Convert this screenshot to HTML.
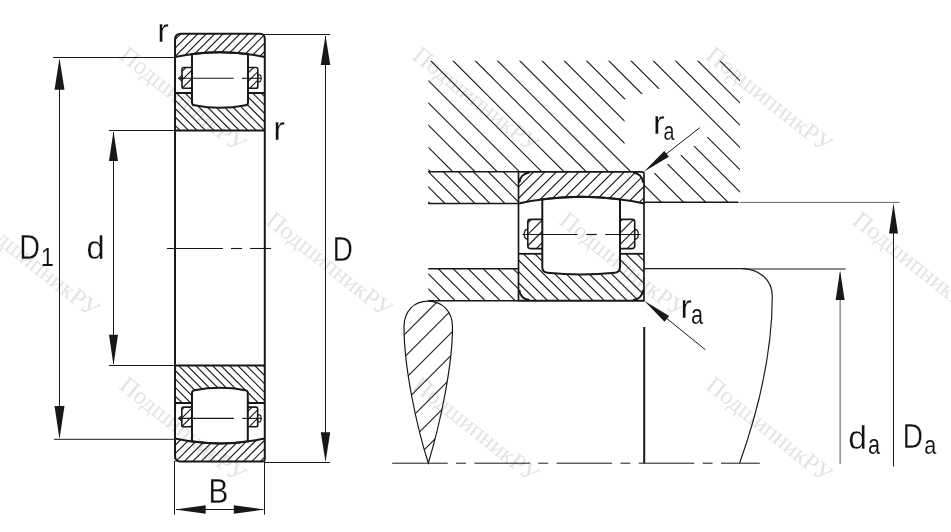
<!DOCTYPE html>
<html><head><meta charset="utf-8"><style>html,body{margin:0;padding:0;background:#fff;width:951px;height:532px;overflow:hidden}</style></head>
<body><svg width="951" height="532" viewBox="0 0 951 532" style="position:absolute;left:0;top:0">
<defs><clipPath id="orT"><path d="M175.0,57 L175.0,33.8 L264.8,33.8 L264.8,57 Q219.9,47.5 175.0,57 Z"/></clipPath><clipPath id="irT"><path d="M175.0,93 H264.8 V130.5 H175.0 Z"/></clipPath><mask id="irmT" maskUnits="userSpaceOnUse" x="0" y="0" width="951" height="532"><rect width="951" height="532" fill="#fff"/><path d="M192,54.08 Q220,50.4 248,54.11 L248,102.5 Q248,105 245.5,105.3 Q220,110.4 194.5,105.3 Q192,105 192,102.5 Z" fill="#000" stroke="#000" stroke-width="1"/></mask><clipPath id="cgT"><rect x="182.0" y="67.5" width="10" height="20.8"/><rect x="248.0" y="67.5" width="9.8" height="20.8"/></clipPath><clipPath id="orB"><path d="M175.0,438.6 L175.0,461.6 L264.8,461.6 L264.8,438.6 Q219.9,448.2 175.0,438.6 Z"/></clipPath><clipPath id="irB"><path d="M175.0,365.5 H264.8 V403 H175.0 Z"/></clipPath><mask id="irmB" maskUnits="userSpaceOnUse" x="0" y="0" width="951" height="532"><rect width="951" height="532" fill="#fff"/><path d="M192,441.55 Q219.9,445.25 247.8,441.55 L247.8,393.1 Q247.8,390.6 245.3,390.3 Q219.9,385.4 194.5,390.3 Q192,390.6 192,393.1 Z" fill="#000" stroke="#000" stroke-width="1"/></mask><clipPath id="cgB"><rect x="181.8" y="407.1" width="10.2" height="19.7"/><rect x="247.8" y="407.1" width="9.9" height="19.7"/></clipPath><clipPath id="hs"><path d="M428.4,60.8 H740 V202.2 H644.0 V171.8 H428.4 Z"/></clipPath><mask id="gap" maskUnits="userSpaceOnUse" x="0" y="0" width="951" height="532"><rect width="951" height="532" fill="#fff"/><path d="M624.5,99.5 L663,87.5 L711,134.5 L652.5,174.5 L624.5,146.5 Z" fill="#000"/></mask><clipPath id="b1"><rect x="428.4" y="171.8" width="90.10000000000002" height="31.69999999999999"/></clipPath><clipPath id="b2"><rect x="428.4" y="268.8" width="90.10000000000002" height="32.0"/></clipPath><clipPath id="or2"><path d="M518.5,203.5 V182.8 A11,11 0 0 1 529.5,171.8 H633.0 A11,11 0 0 1 644.0,182.8 V203.5 Q581.25,189.9 518.5,203.5 Z"/></clipPath><clipPath id="ir2"><path d="M518.5,253.8 H644.0 V289.7 A11,11 0 0 1 633.0,300.7 H529.5 A11,11 0 0 1 518.5,289.7 Z"/></clipPath><mask id="irm2" maskUnits="userSpaceOnUse" x="0" y="0" width="951" height="532"><rect width="951" height="532" fill="#fff"/><path d="M542.3,199.32 Q581.15,194.09 620,199.29 L620,267.3 Q620,272.3 615,272.7 Q581.15,276.1 547.3,272.7 Q542.3,272.3 542.3,267.3 Z" fill="#000" stroke="#000" stroke-width="1"/></mask><clipPath id="cg2"><rect x="527.8" y="219.4" width="14.5" height="29.2"/><rect x="620" y="219.4" width="14.7" height="29.2"/></clipPath><clipPath id="td"><path d="M428.3,463 C417,428 404,368 404,327 C404,311 414,301.2 428,301.2 C442,301.2 452.5,311 452.5,327 C452.5,368 439,428 428.3,463 Z"/></clipPath></defs><rect width="951" height="532" fill="#fff"/>
<g clip-path="url(#orT)">
<line x1="167.6" y1="21.8" x2="120.4" y2="69" stroke="#1a1a1a" stroke-width="1.15" />
<line x1="176.05" y1="21.8" x2="128.85" y2="69" stroke="#1a1a1a" stroke-width="1.15" />
<line x1="184.5" y1="21.8" x2="137.3" y2="69" stroke="#1a1a1a" stroke-width="1.15" />
<line x1="192.95" y1="21.8" x2="145.75" y2="69" stroke="#1a1a1a" stroke-width="1.15" />
<line x1="201.4" y1="21.8" x2="154.2" y2="69" stroke="#1a1a1a" stroke-width="1.15" />
<line x1="209.85" y1="21.8" x2="162.65" y2="69" stroke="#1a1a1a" stroke-width="1.15" />
<line x1="218.3" y1="21.8" x2="171.1" y2="69" stroke="#1a1a1a" stroke-width="1.15" />
<line x1="226.75" y1="21.8" x2="179.55" y2="69" stroke="#1a1a1a" stroke-width="1.15" />
<line x1="235.2" y1="21.8" x2="188" y2="69" stroke="#1a1a1a" stroke-width="1.15" />
<line x1="243.65" y1="21.8" x2="196.45" y2="69" stroke="#1a1a1a" stroke-width="1.15" />
<line x1="252.1" y1="21.8" x2="204.9" y2="69" stroke="#1a1a1a" stroke-width="1.15" />
<line x1="260.55" y1="21.8" x2="213.35" y2="69" stroke="#1a1a1a" stroke-width="1.15" />
<line x1="269" y1="21.8" x2="221.8" y2="69" stroke="#1a1a1a" stroke-width="1.15" />
<line x1="277.45" y1="21.8" x2="230.25" y2="69" stroke="#1a1a1a" stroke-width="1.15" />
<line x1="285.9" y1="21.8" x2="238.7" y2="69" stroke="#1a1a1a" stroke-width="1.15" />
<line x1="294.35" y1="21.8" x2="247.15" y2="69" stroke="#1a1a1a" stroke-width="1.15" />
<line x1="302.8" y1="21.8" x2="255.6" y2="69" stroke="#1a1a1a" stroke-width="1.15" />
<line x1="311.25" y1="21.8" x2="264.05" y2="69" stroke="#1a1a1a" stroke-width="1.15" />
<line x1="319.7" y1="21.8" x2="272.5" y2="69" stroke="#1a1a1a" stroke-width="1.15" />
</g>
<g clip-path="url(#irT)" mask="url(#irmT)">
<line x1="123.8" y1="91" x2="165.3" y2="132.5" stroke="#1a1a1a" stroke-width="1.15" />
<line x1="132.25" y1="91" x2="173.75" y2="132.5" stroke="#1a1a1a" stroke-width="1.15" />
<line x1="140.7" y1="91" x2="182.2" y2="132.5" stroke="#1a1a1a" stroke-width="1.15" />
<line x1="149.15" y1="91" x2="190.65" y2="132.5" stroke="#1a1a1a" stroke-width="1.15" />
<line x1="157.6" y1="91" x2="199.1" y2="132.5" stroke="#1a1a1a" stroke-width="1.15" />
<line x1="166.05" y1="91" x2="207.55" y2="132.5" stroke="#1a1a1a" stroke-width="1.15" />
<line x1="174.5" y1="91" x2="216" y2="132.5" stroke="#1a1a1a" stroke-width="1.15" />
<line x1="182.95" y1="91" x2="224.45" y2="132.5" stroke="#1a1a1a" stroke-width="1.15" />
<line x1="191.4" y1="91" x2="232.9" y2="132.5" stroke="#1a1a1a" stroke-width="1.15" />
<line x1="199.85" y1="91" x2="241.35" y2="132.5" stroke="#1a1a1a" stroke-width="1.15" />
<line x1="208.3" y1="91" x2="249.8" y2="132.5" stroke="#1a1a1a" stroke-width="1.15" />
<line x1="216.75" y1="91" x2="258.25" y2="132.5" stroke="#1a1a1a" stroke-width="1.15" />
<line x1="225.2" y1="91" x2="266.7" y2="132.5" stroke="#1a1a1a" stroke-width="1.15" />
<line x1="233.65" y1="91" x2="275.15" y2="132.5" stroke="#1a1a1a" stroke-width="1.15" />
<line x1="242.1" y1="91" x2="283.6" y2="132.5" stroke="#1a1a1a" stroke-width="1.15" />
<line x1="250.55" y1="91" x2="292.05" y2="132.5" stroke="#1a1a1a" stroke-width="1.15" />
<line x1="259" y1="91" x2="300.5" y2="132.5" stroke="#1a1a1a" stroke-width="1.15" />
<line x1="267.45" y1="91" x2="308.95" y2="132.5" stroke="#1a1a1a" stroke-width="1.15" />
<line x1="275.9" y1="91" x2="317.4" y2="132.5" stroke="#1a1a1a" stroke-width="1.15" />
</g>
<g clip-path="url(#cgT)">
<line x1="171.1" y1="65.5" x2="146.3" y2="90.3" stroke="#1a1a1a" stroke-width="1.15" />
<line x1="179.55" y1="65.5" x2="154.75" y2="90.3" stroke="#1a1a1a" stroke-width="1.15" />
<line x1="188" y1="65.5" x2="163.2" y2="90.3" stroke="#1a1a1a" stroke-width="1.15" />
<line x1="196.45" y1="65.5" x2="171.65" y2="90.3" stroke="#1a1a1a" stroke-width="1.15" />
<line x1="204.9" y1="65.5" x2="180.1" y2="90.3" stroke="#1a1a1a" stroke-width="1.15" />
<line x1="213.35" y1="65.5" x2="188.55" y2="90.3" stroke="#1a1a1a" stroke-width="1.15" />
<line x1="221.8" y1="65.5" x2="197" y2="90.3" stroke="#1a1a1a" stroke-width="1.15" />
<line x1="230.25" y1="65.5" x2="205.45" y2="90.3" stroke="#1a1a1a" stroke-width="1.15" />
<line x1="238.7" y1="65.5" x2="213.9" y2="90.3" stroke="#1a1a1a" stroke-width="1.15" />
<line x1="247.15" y1="65.5" x2="222.35" y2="90.3" stroke="#1a1a1a" stroke-width="1.15" />
<line x1="255.6" y1="65.5" x2="230.8" y2="90.3" stroke="#1a1a1a" stroke-width="1.15" />
<line x1="264.05" y1="65.5" x2="239.25" y2="90.3" stroke="#1a1a1a" stroke-width="1.15" />
<line x1="272.5" y1="65.5" x2="247.7" y2="90.3" stroke="#1a1a1a" stroke-width="1.15" />
<line x1="280.95" y1="65.5" x2="256.15" y2="90.3" stroke="#1a1a1a" stroke-width="1.15" />
<line x1="289.4" y1="65.5" x2="264.6" y2="90.3" stroke="#1a1a1a" stroke-width="1.15" />
</g>
<path d="M175.0,57 Q219.9,47.5 264.8,57" fill="none" stroke="#181818" stroke-width="2"/>
<path d="M192,54.08 Q220,50.4 248,54.11 L248,102.5 Q248,105 245.5,105.3 Q220,110.4 194.5,105.3 Q192,105 192,102.5 Z" fill="none" stroke="#181818" stroke-width="2"/>
<path d="M192.0,67.5 H183.8 Q182.0,67.5 182.0,69.3 V86.5 Q182.0,88.3 183.8,88.3 H192.0" fill="none" stroke="#181818" stroke-width="1.6"/>
<path d="M248.0,67.5 H256 Q257.8,67.5 257.8,69.3 V86.5 Q257.8,88.3 256,88.3 H248.0" fill="none" stroke="#181818" stroke-width="1.6"/>
<path d="M182,75.1 L178.4,78.3 L182,81.5 Z" fill="#555" stroke="#181818" stroke-width="0.9"/>
<ellipse cx="259.3" cy="78.3" rx="1.9" ry="3.6" fill="none" stroke="#181818" stroke-width="1.1"/>
<line x1="178.2" y1="78.3" x2="233.6" y2="78.3" stroke="#181818" stroke-width="1.1" />
<line x1="242" y1="78.3" x2="262" y2="78.3" stroke="#181818" stroke-width="1.1" />
<line x1="175" y1="93" x2="192" y2="93" stroke="#181818" stroke-width="2.0" />
<line x1="248" y1="93" x2="264.8" y2="93" stroke="#181818" stroke-width="2.0" />
<line x1="175" y1="130.5" x2="264.8" y2="130.5" stroke="#181818" stroke-width="2.0" />
<g clip-path="url(#orB)">
<line x1="168.4" y1="426.6" x2="121.4" y2="473.6" stroke="#1a1a1a" stroke-width="1.15" />
<line x1="176.85" y1="426.6" x2="129.85" y2="473.6" stroke="#1a1a1a" stroke-width="1.15" />
<line x1="185.3" y1="426.6" x2="138.3" y2="473.6" stroke="#1a1a1a" stroke-width="1.15" />
<line x1="193.75" y1="426.6" x2="146.75" y2="473.6" stroke="#1a1a1a" stroke-width="1.15" />
<line x1="202.2" y1="426.6" x2="155.2" y2="473.6" stroke="#1a1a1a" stroke-width="1.15" />
<line x1="210.65" y1="426.6" x2="163.65" y2="473.6" stroke="#1a1a1a" stroke-width="1.15" />
<line x1="219.1" y1="426.6" x2="172.1" y2="473.6" stroke="#1a1a1a" stroke-width="1.15" />
<line x1="227.55" y1="426.6" x2="180.55" y2="473.6" stroke="#1a1a1a" stroke-width="1.15" />
<line x1="236" y1="426.6" x2="189" y2="473.6" stroke="#1a1a1a" stroke-width="1.15" />
<line x1="244.45" y1="426.6" x2="197.45" y2="473.6" stroke="#1a1a1a" stroke-width="1.15" />
<line x1="252.9" y1="426.6" x2="205.9" y2="473.6" stroke="#1a1a1a" stroke-width="1.15" />
<line x1="261.35" y1="426.6" x2="214.35" y2="473.6" stroke="#1a1a1a" stroke-width="1.15" />
<line x1="269.8" y1="426.6" x2="222.8" y2="473.6" stroke="#1a1a1a" stroke-width="1.15" />
<line x1="278.25" y1="426.6" x2="231.25" y2="473.6" stroke="#1a1a1a" stroke-width="1.15" />
<line x1="286.7" y1="426.6" x2="239.7" y2="473.6" stroke="#1a1a1a" stroke-width="1.15" />
<line x1="295.15" y1="426.6" x2="248.15" y2="473.6" stroke="#1a1a1a" stroke-width="1.15" />
<line x1="303.6" y1="426.6" x2="256.6" y2="473.6" stroke="#1a1a1a" stroke-width="1.15" />
<line x1="312.05" y1="426.6" x2="265.05" y2="473.6" stroke="#1a1a1a" stroke-width="1.15" />
<line x1="320.5" y1="426.6" x2="273.5" y2="473.6" stroke="#1a1a1a" stroke-width="1.15" />
</g>
<g clip-path="url(#irB)" mask="url(#irmB)">
<line x1="125.9" y1="363.5" x2="167.4" y2="405" stroke="#1a1a1a" stroke-width="1.15" />
<line x1="134.35" y1="363.5" x2="175.85" y2="405" stroke="#1a1a1a" stroke-width="1.15" />
<line x1="142.8" y1="363.5" x2="184.3" y2="405" stroke="#1a1a1a" stroke-width="1.15" />
<line x1="151.25" y1="363.5" x2="192.75" y2="405" stroke="#1a1a1a" stroke-width="1.15" />
<line x1="159.7" y1="363.5" x2="201.2" y2="405" stroke="#1a1a1a" stroke-width="1.15" />
<line x1="168.15" y1="363.5" x2="209.65" y2="405" stroke="#1a1a1a" stroke-width="1.15" />
<line x1="176.6" y1="363.5" x2="218.1" y2="405" stroke="#1a1a1a" stroke-width="1.15" />
<line x1="185.05" y1="363.5" x2="226.55" y2="405" stroke="#1a1a1a" stroke-width="1.15" />
<line x1="193.5" y1="363.5" x2="235" y2="405" stroke="#1a1a1a" stroke-width="1.15" />
<line x1="201.95" y1="363.5" x2="243.45" y2="405" stroke="#1a1a1a" stroke-width="1.15" />
<line x1="210.4" y1="363.5" x2="251.9" y2="405" stroke="#1a1a1a" stroke-width="1.15" />
<line x1="218.85" y1="363.5" x2="260.35" y2="405" stroke="#1a1a1a" stroke-width="1.15" />
<line x1="227.3" y1="363.5" x2="268.8" y2="405" stroke="#1a1a1a" stroke-width="1.15" />
<line x1="235.75" y1="363.5" x2="277.25" y2="405" stroke="#1a1a1a" stroke-width="1.15" />
<line x1="244.2" y1="363.5" x2="285.7" y2="405" stroke="#1a1a1a" stroke-width="1.15" />
<line x1="252.65" y1="363.5" x2="294.15" y2="405" stroke="#1a1a1a" stroke-width="1.15" />
<line x1="261.1" y1="363.5" x2="302.6" y2="405" stroke="#1a1a1a" stroke-width="1.15" />
<line x1="269.55" y1="363.5" x2="311.05" y2="405" stroke="#1a1a1a" stroke-width="1.15" />
<line x1="278" y1="363.5" x2="319.5" y2="405" stroke="#1a1a1a" stroke-width="1.15" />
</g>
<g clip-path="url(#cgB)">
<line x1="169.5" y1="405.1" x2="145.8" y2="428.8" stroke="#1a1a1a" stroke-width="1.15" />
<line x1="177.95" y1="405.1" x2="154.25" y2="428.8" stroke="#1a1a1a" stroke-width="1.15" />
<line x1="186.4" y1="405.1" x2="162.7" y2="428.8" stroke="#1a1a1a" stroke-width="1.15" />
<line x1="194.85" y1="405.1" x2="171.15" y2="428.8" stroke="#1a1a1a" stroke-width="1.15" />
<line x1="203.3" y1="405.1" x2="179.6" y2="428.8" stroke="#1a1a1a" stroke-width="1.15" />
<line x1="211.75" y1="405.1" x2="188.05" y2="428.8" stroke="#1a1a1a" stroke-width="1.15" />
<line x1="220.2" y1="405.1" x2="196.5" y2="428.8" stroke="#1a1a1a" stroke-width="1.15" />
<line x1="228.65" y1="405.1" x2="204.95" y2="428.8" stroke="#1a1a1a" stroke-width="1.15" />
<line x1="237.1" y1="405.1" x2="213.4" y2="428.8" stroke="#1a1a1a" stroke-width="1.15" />
<line x1="245.55" y1="405.1" x2="221.85" y2="428.8" stroke="#1a1a1a" stroke-width="1.15" />
<line x1="254" y1="405.1" x2="230.3" y2="428.8" stroke="#1a1a1a" stroke-width="1.15" />
<line x1="262.45" y1="405.1" x2="238.75" y2="428.8" stroke="#1a1a1a" stroke-width="1.15" />
<line x1="270.9" y1="405.1" x2="247.2" y2="428.8" stroke="#1a1a1a" stroke-width="1.15" />
<line x1="279.35" y1="405.1" x2="255.65" y2="428.8" stroke="#1a1a1a" stroke-width="1.15" />
<line x1="287.8" y1="405.1" x2="264.1" y2="428.8" stroke="#1a1a1a" stroke-width="1.15" />
<line x1="296.25" y1="405.1" x2="272.55" y2="428.8" stroke="#1a1a1a" stroke-width="1.15" />
</g>
<path d="M175.0,438.6 Q219.9,448.2 264.8,438.6" fill="none" stroke="#181818" stroke-width="2"/>
<path d="M192,441.55 Q219.9,445.25 247.8,441.55 L247.8,393.1 Q247.8,390.6 245.3,390.3 Q219.9,385.4 194.5,390.3 Q192,390.6 192,393.1 Z" fill="none" stroke="#181818" stroke-width="2"/>
<path d="M192.0,407.1 H183.6 Q181.8,407.1 181.8,408.9 V425 Q181.8,426.8 183.6,426.8 H192.0" fill="none" stroke="#181818" stroke-width="1.6"/>
<path d="M247.8,407.1 H255.9 Q257.7,407.1 257.7,408.9 V425 Q257.7,426.8 255.9,426.8 H247.8" fill="none" stroke="#181818" stroke-width="1.6"/>
<path d="M181.8,415.2 L178.2,418.4 L181.8,421.6 Z" fill="#555" stroke="#181818" stroke-width="0.9"/>
<ellipse cx="259.2" cy="418.4" rx="1.9" ry="3.6" fill="none" stroke="#181818" stroke-width="1.1"/>
<line x1="178.6" y1="418.4" x2="233.8" y2="418.4" stroke="#181818" stroke-width="1.1" />
<line x1="242.2" y1="418.4" x2="261.8" y2="418.4" stroke="#181818" stroke-width="1.1" />
<line x1="175" y1="403" x2="192" y2="403" stroke="#181818" stroke-width="2.0" />
<line x1="247.8" y1="403" x2="264.8" y2="403" stroke="#181818" stroke-width="2.0" />
<line x1="175" y1="365.5" x2="264.8" y2="365.5" stroke="#181818" stroke-width="2.0" />
<line x1="166.9" y1="248.5" x2="222.9" y2="248.5" stroke="#181818" stroke-width="1.1" />
<line x1="231" y1="248.5" x2="242" y2="248.5" stroke="#181818" stroke-width="1.1" />
<line x1="250.1" y1="248.5" x2="271" y2="248.5" stroke="#181818" stroke-width="1.1" />
<path d="M175.0,40 Q175.0,33.8 181.0,33.8 H259.8 Q264.8,33.8 264.8,38.8 V459 Q264.8,461.6 262.2,461.6 H180.5 Q175.0,461.6 175.0,456.1 Z" fill="none" stroke="#181818" stroke-width="2"/>
<line x1="53" y1="57.5" x2="175" y2="57.5" stroke="#181818" stroke-width="1.0" />
<line x1="54" y1="439.3" x2="175" y2="439.3" stroke="#181818" stroke-width="1.0" />
<line x1="109" y1="130.5" x2="175" y2="130.5" stroke="#181818" stroke-width="1.0" />
<line x1="109" y1="365.5" x2="175" y2="365.5" stroke="#181818" stroke-width="1.0" />
<line x1="264.8" y1="34.5" x2="330" y2="34.5" stroke="#181818" stroke-width="1.0" />
<line x1="264.8" y1="462.5" x2="330" y2="462.5" stroke="#181818" stroke-width="1.0" />
<line x1="174.5" y1="461" x2="174.5" y2="514.6" stroke="#181818" stroke-width="1.0" />
<line x1="264.5" y1="461" x2="264.5" y2="514.6" stroke="#181818" stroke-width="1.0" />
<line x1="59.5" y1="60" x2="59.5" y2="437" stroke="#181818" stroke-width="1.0" />
<path d="M59.5,58.3 L54.5,89.8 L64.5,89.8 Z" fill="#181818"/>
<path d="M59.5,439 L64.5,406 L54.5,406 Z" fill="#181818"/>
<line x1="113.5" y1="132" x2="113.5" y2="364" stroke="#181818" stroke-width="1.0" />
<path d="M113.5,131 L109,161 L118,161 Z" fill="#181818"/>
<path d="M113.5,365.2 L118,334.7 L109,334.7 Z" fill="#181818"/>
<line x1="325.5" y1="36" x2="325.5" y2="460" stroke="#181818" stroke-width="1.0" />
<path d="M325.5,35.3 L320.75,65 L330.25,65 Z" fill="#181818"/>
<path d="M325.5,462 L330.25,432.3 L320.75,432.3 Z" fill="#181818"/>
<line x1="176" y1="509.5" x2="263" y2="509.5" stroke="#181818" stroke-width="1.0" />
<path d="M175.2,509.5 L205.7,513.8 L205.7,505.2 Z" fill="#181818"/>
<path d="M264.3,509.5 L233.8,505.2 L233.8,513.8 Z" fill="#181818"/>
<g clip-path="url(#hs)" mask="url(#gap)">
<line x1="250" y1="58" x2="398" y2="206" stroke="#1a1a1a" stroke-width="1.15" />
<line x1="272.25" y1="58" x2="420.25" y2="206" stroke="#1a1a1a" stroke-width="1.15" />
<line x1="294.5" y1="58" x2="442.5" y2="206" stroke="#1a1a1a" stroke-width="1.15" />
<line x1="316.75" y1="58" x2="464.75" y2="206" stroke="#1a1a1a" stroke-width="1.15" />
<line x1="339" y1="58" x2="487" y2="206" stroke="#1a1a1a" stroke-width="1.15" />
<line x1="361.25" y1="58" x2="509.25" y2="206" stroke="#1a1a1a" stroke-width="1.15" />
<line x1="383.5" y1="58" x2="531.5" y2="206" stroke="#1a1a1a" stroke-width="1.15" />
<line x1="405.75" y1="58" x2="553.75" y2="206" stroke="#1a1a1a" stroke-width="1.15" />
<line x1="428" y1="58" x2="576" y2="206" stroke="#1a1a1a" stroke-width="1.15" />
<line x1="450.25" y1="58" x2="598.25" y2="206" stroke="#1a1a1a" stroke-width="1.15" />
<line x1="472.5" y1="58" x2="620.5" y2="206" stroke="#1a1a1a" stroke-width="1.15" />
<line x1="494.75" y1="58" x2="642.75" y2="206" stroke="#1a1a1a" stroke-width="1.15" />
<line x1="517" y1="58" x2="665" y2="206" stroke="#1a1a1a" stroke-width="1.15" />
<line x1="539.25" y1="58" x2="687.25" y2="206" stroke="#1a1a1a" stroke-width="1.15" />
<line x1="561.5" y1="58" x2="709.5" y2="206" stroke="#1a1a1a" stroke-width="1.15" />
<line x1="583.75" y1="58" x2="731.75" y2="206" stroke="#1a1a1a" stroke-width="1.15" />
<line x1="606" y1="58" x2="754" y2="206" stroke="#1a1a1a" stroke-width="1.15" />
<line x1="628.25" y1="58" x2="776.25" y2="206" stroke="#1a1a1a" stroke-width="1.15" />
<line x1="650.5" y1="58" x2="798.5" y2="206" stroke="#1a1a1a" stroke-width="1.15" />
<line x1="672.75" y1="58" x2="820.75" y2="206" stroke="#1a1a1a" stroke-width="1.15" />
<line x1="695" y1="58" x2="843" y2="206" stroke="#1a1a1a" stroke-width="1.15" />
<line x1="717.25" y1="58" x2="865.25" y2="206" stroke="#1a1a1a" stroke-width="1.15" />
<line x1="739.5" y1="58" x2="887.5" y2="206" stroke="#1a1a1a" stroke-width="1.15" />
<line x1="761.75" y1="58" x2="909.75" y2="206" stroke="#1a1a1a" stroke-width="1.15" />
</g>
<g clip-path="url(#b1)">
<line x1="366.3" y1="169.8" x2="402" y2="205.5" stroke="#1a1a1a" stroke-width="1.15" />
<line x1="381.3" y1="169.8" x2="417" y2="205.5" stroke="#1a1a1a" stroke-width="1.15" />
<line x1="396.3" y1="169.8" x2="432" y2="205.5" stroke="#1a1a1a" stroke-width="1.15" />
<line x1="411.3" y1="169.8" x2="447" y2="205.5" stroke="#1a1a1a" stroke-width="1.15" />
<line x1="426.3" y1="169.8" x2="462" y2="205.5" stroke="#1a1a1a" stroke-width="1.15" />
<line x1="441.3" y1="169.8" x2="477" y2="205.5" stroke="#1a1a1a" stroke-width="1.15" />
<line x1="456.3" y1="169.8" x2="492" y2="205.5" stroke="#1a1a1a" stroke-width="1.15" />
<line x1="471.3" y1="169.8" x2="507" y2="205.5" stroke="#1a1a1a" stroke-width="1.15" />
<line x1="486.3" y1="169.8" x2="522" y2="205.5" stroke="#1a1a1a" stroke-width="1.15" />
<line x1="501.3" y1="169.8" x2="537" y2="205.5" stroke="#1a1a1a" stroke-width="1.15" />
<line x1="516.3" y1="169.8" x2="552" y2="205.5" stroke="#1a1a1a" stroke-width="1.15" />
<line x1="531.3" y1="169.8" x2="567" y2="205.5" stroke="#1a1a1a" stroke-width="1.15" />
<line x1="546.3" y1="169.8" x2="582" y2="205.5" stroke="#1a1a1a" stroke-width="1.15" />
</g>
<g clip-path="url(#b2)">
<line x1="376.3" y1="266.8" x2="412.3" y2="302.8" stroke="#1a1a1a" stroke-width="1.15" />
<line x1="391.3" y1="266.8" x2="427.3" y2="302.8" stroke="#1a1a1a" stroke-width="1.15" />
<line x1="406.3" y1="266.8" x2="442.3" y2="302.8" stroke="#1a1a1a" stroke-width="1.15" />
<line x1="421.3" y1="266.8" x2="457.3" y2="302.8" stroke="#1a1a1a" stroke-width="1.15" />
<line x1="436.3" y1="266.8" x2="472.3" y2="302.8" stroke="#1a1a1a" stroke-width="1.15" />
<line x1="451.3" y1="266.8" x2="487.3" y2="302.8" stroke="#1a1a1a" stroke-width="1.15" />
<line x1="466.3" y1="266.8" x2="502.3" y2="302.8" stroke="#1a1a1a" stroke-width="1.15" />
<line x1="481.3" y1="266.8" x2="517.3" y2="302.8" stroke="#1a1a1a" stroke-width="1.15" />
<line x1="496.3" y1="266.8" x2="532.3" y2="302.8" stroke="#1a1a1a" stroke-width="1.15" />
<line x1="511.3" y1="266.8" x2="547.3" y2="302.8" stroke="#1a1a1a" stroke-width="1.15" />
<line x1="526.3" y1="266.8" x2="562.3" y2="302.8" stroke="#1a1a1a" stroke-width="1.15" />
<line x1="541.3" y1="266.8" x2="577.3" y2="302.8" stroke="#1a1a1a" stroke-width="1.15" />
</g>
<line x1="428.2" y1="171.8" x2="518.5" y2="171.8" stroke="#181818" stroke-width="1.5" />
<line x1="428.2" y1="203.5" x2="518.5" y2="203.5" stroke="#181818" stroke-width="1.5" />
<line x1="644" y1="202.2" x2="738.5" y2="202.2" stroke="#181818" stroke-width="1.5" />
<line x1="428.2" y1="268.8" x2="518.5" y2="268.8" stroke="#181818" stroke-width="1.5" />
<line x1="428.2" y1="300.8" x2="644" y2="300.8" stroke="#181818" stroke-width="1.5" />
<g clip-path="url(#or2)">
<line x1="501.7" y1="169.8" x2="465.5" y2="206" stroke="#1a1a1a" stroke-width="1.15" />
<line x1="513.05" y1="169.8" x2="476.85" y2="206" stroke="#1a1a1a" stroke-width="1.15" />
<line x1="524.4" y1="169.8" x2="488.2" y2="206" stroke="#1a1a1a" stroke-width="1.15" />
<line x1="535.75" y1="169.8" x2="499.55" y2="206" stroke="#1a1a1a" stroke-width="1.15" />
<line x1="547.1" y1="169.8" x2="510.9" y2="206" stroke="#1a1a1a" stroke-width="1.15" />
<line x1="558.45" y1="169.8" x2="522.25" y2="206" stroke="#1a1a1a" stroke-width="1.15" />
<line x1="569.8" y1="169.8" x2="533.6" y2="206" stroke="#1a1a1a" stroke-width="1.15" />
<line x1="581.15" y1="169.8" x2="544.95" y2="206" stroke="#1a1a1a" stroke-width="1.15" />
<line x1="592.5" y1="169.8" x2="556.3" y2="206" stroke="#1a1a1a" stroke-width="1.15" />
<line x1="603.85" y1="169.8" x2="567.65" y2="206" stroke="#1a1a1a" stroke-width="1.15" />
<line x1="615.2" y1="169.8" x2="579" y2="206" stroke="#1a1a1a" stroke-width="1.15" />
<line x1="626.55" y1="169.8" x2="590.35" y2="206" stroke="#1a1a1a" stroke-width="1.15" />
<line x1="637.9" y1="169.8" x2="601.7" y2="206" stroke="#1a1a1a" stroke-width="1.15" />
<line x1="649.25" y1="169.8" x2="613.05" y2="206" stroke="#1a1a1a" stroke-width="1.15" />
<line x1="660.6" y1="169.8" x2="624.4" y2="206" stroke="#1a1a1a" stroke-width="1.15" />
<line x1="671.95" y1="169.8" x2="635.75" y2="206" stroke="#1a1a1a" stroke-width="1.15" />
<line x1="683.3" y1="169.8" x2="647.1" y2="206" stroke="#1a1a1a" stroke-width="1.15" />
<line x1="694.65" y1="169.8" x2="658.45" y2="206" stroke="#1a1a1a" stroke-width="1.15" />
</g>
<g clip-path="url(#ir2)" mask="url(#irm2)">
<line x1="452.6" y1="251" x2="504.3" y2="302.7" stroke="#1a1a1a" stroke-width="1.15" />
<line x1="463.95" y1="251" x2="515.65" y2="302.7" stroke="#1a1a1a" stroke-width="1.15" />
<line x1="475.3" y1="251" x2="527" y2="302.7" stroke="#1a1a1a" stroke-width="1.15" />
<line x1="486.65" y1="251" x2="538.35" y2="302.7" stroke="#1a1a1a" stroke-width="1.15" />
<line x1="498" y1="251" x2="549.7" y2="302.7" stroke="#1a1a1a" stroke-width="1.15" />
<line x1="509.35" y1="251" x2="561.05" y2="302.7" stroke="#1a1a1a" stroke-width="1.15" />
<line x1="520.7" y1="251" x2="572.4" y2="302.7" stroke="#1a1a1a" stroke-width="1.15" />
<line x1="532.05" y1="251" x2="583.75" y2="302.7" stroke="#1a1a1a" stroke-width="1.15" />
<line x1="543.4" y1="251" x2="595.1" y2="302.7" stroke="#1a1a1a" stroke-width="1.15" />
<line x1="554.75" y1="251" x2="606.45" y2="302.7" stroke="#1a1a1a" stroke-width="1.15" />
<line x1="566.1" y1="251" x2="617.8" y2="302.7" stroke="#1a1a1a" stroke-width="1.15" />
<line x1="577.45" y1="251" x2="629.15" y2="302.7" stroke="#1a1a1a" stroke-width="1.15" />
<line x1="588.8" y1="251" x2="640.5" y2="302.7" stroke="#1a1a1a" stroke-width="1.15" />
<line x1="600.15" y1="251" x2="651.85" y2="302.7" stroke="#1a1a1a" stroke-width="1.15" />
<line x1="611.5" y1="251" x2="663.2" y2="302.7" stroke="#1a1a1a" stroke-width="1.15" />
<line x1="622.85" y1="251" x2="674.55" y2="302.7" stroke="#1a1a1a" stroke-width="1.15" />
<line x1="634.2" y1="251" x2="685.9" y2="302.7" stroke="#1a1a1a" stroke-width="1.15" />
<line x1="645.55" y1="251" x2="697.25" y2="302.7" stroke="#1a1a1a" stroke-width="1.15" />
<line x1="656.9" y1="251" x2="708.6" y2="302.7" stroke="#1a1a1a" stroke-width="1.15" />
</g>
<g clip-path="url(#cg2)">
<line x1="511.25" y1="217" x2="477.25" y2="251" stroke="#1a1a1a" stroke-width="1.15" />
<line x1="522.6" y1="217" x2="488.6" y2="251" stroke="#1a1a1a" stroke-width="1.15" />
<line x1="533.95" y1="217" x2="499.95" y2="251" stroke="#1a1a1a" stroke-width="1.15" />
<line x1="545.3" y1="217" x2="511.3" y2="251" stroke="#1a1a1a" stroke-width="1.15" />
<line x1="556.65" y1="217" x2="522.65" y2="251" stroke="#1a1a1a" stroke-width="1.15" />
<line x1="568" y1="217" x2="534" y2="251" stroke="#1a1a1a" stroke-width="1.15" />
<line x1="579.35" y1="217" x2="545.35" y2="251" stroke="#1a1a1a" stroke-width="1.15" />
<line x1="590.7" y1="217" x2="556.7" y2="251" stroke="#1a1a1a" stroke-width="1.15" />
<line x1="602.05" y1="217" x2="568.05" y2="251" stroke="#1a1a1a" stroke-width="1.15" />
<line x1="613.4" y1="217" x2="579.4" y2="251" stroke="#1a1a1a" stroke-width="1.15" />
<line x1="624.75" y1="217" x2="590.75" y2="251" stroke="#1a1a1a" stroke-width="1.15" />
<line x1="636.1" y1="217" x2="602.1" y2="251" stroke="#1a1a1a" stroke-width="1.15" />
<line x1="647.45" y1="217" x2="613.45" y2="251" stroke="#1a1a1a" stroke-width="1.15" />
<line x1="658.8" y1="217" x2="624.8" y2="251" stroke="#1a1a1a" stroke-width="1.15" />
<line x1="670.15" y1="217" x2="636.15" y2="251" stroke="#1a1a1a" stroke-width="1.15" />
<line x1="681.5" y1="217" x2="647.5" y2="251" stroke="#1a1a1a" stroke-width="1.15" />
</g>
<path d="M518.5,171.8 H642.0 Q644.0,171.8 644.0,173.8 V300.7 H518.5 Z" fill="none" stroke="#181818" stroke-width="1.7"/>
<path d="M519.3,182.8 A11,11 0 0 1 529.5,172.4 M633.0,172.4 A11,11 0 0 1 643.2,182.8 M643.2,289.7 A11,11 0 0 1 633.0,300.09999999999997 M529.5,300.09999999999997 A11,11 0 0 1 519.3,289.7" fill="none" stroke="#181818" stroke-width="2"/>
<path d="M518.5,203.5 Q581.25,189.9 644.0,203.5" fill="none" stroke="#181818" stroke-width="2"/>
<path d="M542.3,199.32 Q581.15,194.09 620,199.29 L620,267.3 Q620,272.3 615,272.7 Q581.15,276.1 547.3,272.7 Q542.3,272.3 542.3,267.3 Z" fill="none" stroke="#181818" stroke-width="2"/>
<path d="M542.3,219.4 H530.3 Q527.8,219.4 527.8,221.9 V246.1 Q527.8,248.6 530.3,248.6 H542.3" fill="none" stroke="#181818" stroke-width="1.6"/>
<path d="M620,219.4 H632.2 Q634.7,219.4 634.7,221.9 V246.1 Q634.7,248.6 632.2,248.6 H620" fill="none" stroke="#181818" stroke-width="1.6"/>
<path d="M527.8,229.2 Q524.2,229.7 524.2,234.3 Q524.2,238.9 527.8,239.4" fill="none" stroke="#181818" stroke-width="1.2"/>
<path d="M634.7,229.2 Q638.3,229.7 638.3,234.3 Q638.3,238.9 634.7,239.4" fill="none" stroke="#181818" stroke-width="1.2"/>
<line x1="522.5" y1="234.5" x2="577.6" y2="234.5" stroke="#181818" stroke-width="1.2" />
<line x1="586.4" y1="234.5" x2="596.8" y2="234.5" stroke="#181818" stroke-width="1.2" />
<line x1="605.2" y1="234.5" x2="640.8" y2="234.5" stroke="#181818" stroke-width="1.2" />
<line x1="518.5" y1="253.8" x2="542.3" y2="253.8" stroke="#181818" stroke-width="1.8" />
<line x1="620" y1="253.8" x2="644" y2="253.8" stroke="#181818" stroke-width="1.8" />
<path d="M742,268.6 C759,268.6 772.3,280 772.3,296 C772.3,360 755,420 739.6,463.2" fill="none" stroke="#1e1e1e" stroke-width="1.2"/>
<line x1="644" y1="268.6" x2="745" y2="268.6" stroke="#1a1a1a" stroke-width="1.3" />
<line x1="745" y1="269" x2="845.5" y2="269" stroke="#1a1a1a" stroke-width="1.2" />
<line x1="740.2" y1="202.4" x2="899.6" y2="202.4" stroke="#666" stroke-width="1.0" />
<line x1="644.2" y1="327" x2="644.2" y2="463.2" stroke="#181818" stroke-width="2.0" />
<line x1="392.2" y1="463.2" x2="447.7" y2="463.2" stroke="#181818" stroke-width="1.0" />
<line x1="456.1" y1="463.2" x2="466" y2="463.2" stroke="#181818" stroke-width="1.0" />
<line x1="474.4" y1="463.2" x2="529.9" y2="463.2" stroke="#181818" stroke-width="1.0" />
<line x1="538.3" y1="463.2" x2="548.2" y2="463.2" stroke="#181818" stroke-width="1.0" />
<line x1="556.6" y1="463.2" x2="612.1" y2="463.2" stroke="#181818" stroke-width="1.0" />
<line x1="620.5" y1="463.2" x2="630.4" y2="463.2" stroke="#181818" stroke-width="1.0" />
<line x1="638.8" y1="463.2" x2="694.3" y2="463.2" stroke="#181818" stroke-width="1.0" />
<line x1="702.7" y1="463.2" x2="712.6" y2="463.2" stroke="#181818" stroke-width="1.0" />
<line x1="721" y1="463.2" x2="759.8" y2="463.2" stroke="#181818" stroke-width="1.0" />
<g clip-path="url(#td)">
<line x1="373.5" y1="298" x2="204.5" y2="467" stroke="#1a1a1a" stroke-width="1.15" />
<line x1="396" y1="298" x2="227" y2="467" stroke="#1a1a1a" stroke-width="1.15" />
<line x1="418.5" y1="298" x2="249.5" y2="467" stroke="#1a1a1a" stroke-width="1.15" />
<line x1="441" y1="298" x2="272" y2="467" stroke="#1a1a1a" stroke-width="1.15" />
<line x1="463.5" y1="298" x2="294.5" y2="467" stroke="#1a1a1a" stroke-width="1.15" />
<line x1="486" y1="298" x2="317" y2="467" stroke="#1a1a1a" stroke-width="1.15" />
<line x1="508.5" y1="298" x2="339.5" y2="467" stroke="#1a1a1a" stroke-width="1.15" />
<line x1="531" y1="298" x2="362" y2="467" stroke="#1a1a1a" stroke-width="1.15" />
<line x1="553.5" y1="298" x2="384.5" y2="467" stroke="#1a1a1a" stroke-width="1.15" />
<line x1="576" y1="298" x2="407" y2="467" stroke="#1a1a1a" stroke-width="1.15" />
<line x1="598.5" y1="298" x2="429.5" y2="467" stroke="#1a1a1a" stroke-width="1.15" />
<line x1="621" y1="298" x2="452" y2="467" stroke="#1a1a1a" stroke-width="1.15" />
<line x1="643.5" y1="298" x2="474.5" y2="467" stroke="#1a1a1a" stroke-width="1.15" />
<line x1="666" y1="298" x2="497" y2="467" stroke="#1a1a1a" stroke-width="1.15" />
</g>
<path d="M428.3,463 C417,428 404,368 404,327 C404,311 414,301.2 428,301.2 C442,301.2 452.5,311 452.5,327 C452.5,368 439,428 428.3,463 Z" fill="none" stroke="#181818" stroke-width="1.2"/>
<line x1="840.1" y1="273" x2="840.1" y2="464" stroke="#555" stroke-width="1.0" />
<path d="M840.1,270.5 L835.6,300 L844.6,300 Z" fill="#181818"/>
<line x1="893.5" y1="206" x2="893.5" y2="466.6" stroke="#181818" stroke-width="1.0" />
<path d="M893.5,203.5 L889,233.5 L898,233.5 Z" fill="#181818"/>
<line x1="699.8" y1="127.7" x2="660" y2="158.8" stroke="#181818" stroke-width="1.0" />
<path d="M643.8,171.8 L668.9,156.8 L664.26,150.91 Z" fill="#181818"/>
<line x1="705.3" y1="349.7" x2="660" y2="313" stroke="#181818" stroke-width="1.0" />
<path d="M644.2,300.8 L664.5,321.85 L669.18,315.99 Z" fill="#181818"/>
<text x="0" y="0" transform="translate(157.29,41.6) scale(1.05,1)" style="font-family:'Liberation Sans',sans-serif;fill:#111;font-size:32.78px;stroke:#fff;stroke-width:0.3px" >r</text>
<text x="0" y="0" transform="translate(273.14,139.9) scale(1.06,1)" style="font-family:'Liberation Sans',sans-serif;fill:#111;font-size:33.15px;stroke:#fff;stroke-width:0.3px" >r</text>
<text x="0" y="0" transform="translate(19.29,258.9) scale(0.83,1)" style="font-family:'Liberation Sans',sans-serif;fill:#111;font-size:34.64px;stroke:#fff;stroke-width:0.3px" >D</text>
<text x="0" y="0" transform="translate(40.68,265.8) scale(0.92,1)" style="font-family:'Liberation Sans',sans-serif;fill:#111;font-size:25.94px;stroke:#fff;stroke-width:0.12px" >1</text>
<text x="0" y="0" transform="translate(86.49,258.86) scale(0.97,1)" style="font-family:'Liberation Sans',sans-serif;fill:#111;font-size:33.65px;stroke:#fff;stroke-width:0.3px" >d</text>
<text x="0" y="0" transform="translate(332.79,260.6) scale(0.81,1)" style="font-family:'Liberation Sans',sans-serif;fill:#111;font-size:34.35px;stroke:#fff;stroke-width:0.3px" >D</text>
<text x="0" y="0" transform="translate(208.62,502.7) scale(0.86,1)" style="font-family:'Liberation Sans',sans-serif;fill:#111;font-size:34.64px;stroke:#fff;stroke-width:0.3px" >B</text>
<text x="0" y="0" transform="translate(848.35,448.86) scale(1,1)" style="font-family:'Liberation Sans',sans-serif;fill:#111;font-size:33.78px;stroke:#fff;stroke-width:0.3px" >d</text>
<text x="0" y="0" transform="translate(867.94,454.43) scale(0.81,1)" style="font-family:'Liberation Sans',sans-serif;fill:#111;font-size:26.73px;stroke:#fff;stroke-width:0.12px" >a</text>
<text x="0" y="0" transform="translate(902.76,448.1) scale(0.82,1)" style="font-family:'Liberation Sans',sans-serif;fill:#111;font-size:34.2px;stroke:#fff;stroke-width:0.3px" >D</text>
<text x="0" y="0" transform="translate(924.13,453.75) scale(0.85,1)" style="font-family:'Liberation Sans',sans-serif;fill:#111;font-size:25.45px;stroke:#fff;stroke-width:0.12px" >a</text>
<text x="0" y="0" transform="translate(652.78,133.9) scale(1.07,1)" style="font-family:'Liberation Sans',sans-serif;fill:#111;font-size:33.52px;stroke:#fff;stroke-width:0.3px" >r</text>
<text x="0" y="0" transform="translate(663.52,139.94) scale(0.76,1)" style="font-family:'Liberation Sans',sans-serif;fill:#111;font-size:25.82px;stroke:#fff;stroke-width:0.12px" >a</text>
<text x="0" y="0" transform="translate(680.45,317.5) scale(1.03,1)" style="font-family:'Liberation Sans',sans-serif;fill:#111;font-size:32.78px;stroke:#fff;stroke-width:0.3px" >r</text>
<text x="0" y="0" transform="translate(690.93,324.02) scale(0.78,1)" style="font-family:'Liberation Sans',sans-serif;fill:#111;font-size:27.82px;stroke:#fff;stroke-width:0.12px" >a</text>
</svg>
<svg width="951" height="532" style="position:absolute;left:0;top:0;mix-blend-mode:multiply">
<text x="0" y="0" transform="translate(118,58) rotate(38.5)" style="font-family:'Liberation Serif',serif;font-size:24.2px;fill:#e3e3e3">ПодшипникРУ</text>
<text x="0" y="0" transform="translate(411.3,58) rotate(38.5)" style="font-family:'Liberation Serif',serif;font-size:24.2px;fill:#e3e3e3">ПодшипникРУ</text>
<text x="0" y="0" transform="translate(704.6,58) rotate(38.5)" style="font-family:'Liberation Serif',serif;font-size:24.2px;fill:#e3e3e3">ПодшипникРУ</text>
<text x="0" y="0" transform="translate(-28.6,223) rotate(38.5)" style="font-family:'Liberation Serif',serif;font-size:24.2px;fill:#e3e3e3">ПодшипникРУ</text>
<text x="0" y="0" transform="translate(264.7,223) rotate(38.5)" style="font-family:'Liberation Serif',serif;font-size:24.2px;fill:#e3e3e3">ПодшипникРУ</text>
<text x="0" y="0" transform="translate(558,223) rotate(38.5)" style="font-family:'Liberation Serif',serif;font-size:24.2px;fill:#e3e3e3">ПодшипникРУ</text>
<text x="0" y="0" transform="translate(851.3,223) rotate(38.5)" style="font-family:'Liberation Serif',serif;font-size:24.2px;fill:#e3e3e3">ПодшипникРУ</text>
<text x="0" y="0" transform="translate(118,388) rotate(38.5)" style="font-family:'Liberation Serif',serif;font-size:24.2px;fill:#e3e3e3">ПодшипникРУ</text>
<text x="0" y="0" transform="translate(411.3,388) rotate(38.5)" style="font-family:'Liberation Serif',serif;font-size:24.2px;fill:#e3e3e3">ПодшипникРУ</text>
<text x="0" y="0" transform="translate(704.6,388) rotate(38.5)" style="font-family:'Liberation Serif',serif;font-size:24.2px;fill:#e3e3e3">ПодшипникРУ</text>
</svg></body></html>
